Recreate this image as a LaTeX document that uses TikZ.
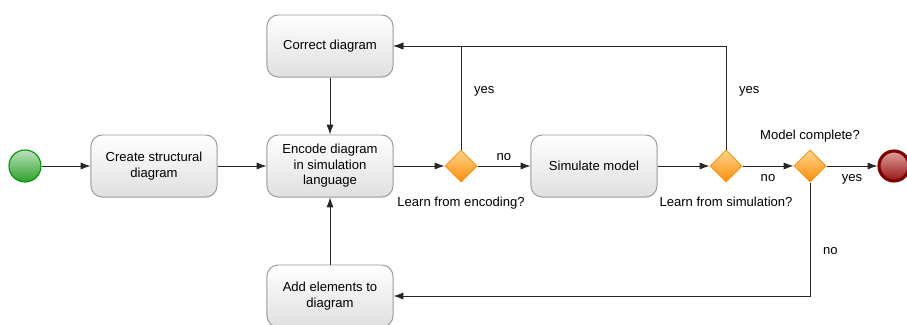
\documentclass[tikz,border=0pt]{standalone}
\usepackage{fontspec}
\setmainfont{Liberation Sans}
\usetikzlibrary{shapes.geometric}
\usetikzlibrary{arrows.meta}
\usetikzlibrary{positioning}
\definecolor{startline}{RGB}{0,150,0}
\definecolor{starttop}{RGB}{190,225,190}
\definecolor{startbot}{RGB}{40,160,40}
\definecolor{endline}{RGB}{125,0,0}
\definecolor{endtop}{RGB}{225,160,160}
\definecolor{endbot}{RGB}{150,20,20}
\definecolor{gateline}{RGB}{250,150,20}
\definecolor{gatetop}{RGB}{255,215,140}
\definecolor{gatebot}{RGB}{250,140,10}
\tikzstyle{task}=[rectangle, rounded corners=8pt, draw=gray!80, line width=0.7pt, top color=white, bottom color=gray!25, minimum width=3.15cm, minimum height=1.55cm, align=center, font=\fontsize{9.3}{11}\selectfont]
\tikzstyle{gate}=[diamond, draw=gateline, line width=0.7pt, top color=gatetop, bottom color=gatebot, minimum width=0.8cm, minimum height=0.8cm, inner sep=0pt]
\tikzstyle{startev}=[circle, draw=startline, line width=0.8pt, top color=starttop, bottom color=startbot, minimum size=0.8cm, inner sep=0pt]
\tikzstyle{endev}=[circle, draw=endline, line width=2.2pt, top color=endtop, bottom color=endbot, minimum size=0.75cm, inner sep=0pt]
\tikzstyle{flow}=[-{Latex[length=7pt,width=5pt]}, line width=0.6pt, black!85]
\tikzstyle{note}=[font=\fontsize{9.3}{11}\selectfont, inner sep=1pt, black]

\begin{document}
\begin{tikzpicture}[x=0.025cm, y=-0.025cm]
        \useasboundingbox (0,0) rectangle (907,324);

        % Eventos
        \node[startev] (start) at (25,166) {};
        \node[endev] (stop) at (894,166) {};

        % Tareas
        \node[task] (create) at (154,166) {Create structural\\diagram};
        \node[task] (encode) at (330,166) {Encode diagram\\in simulation\\language};
        \node[task] (correct) at (330,46) {Correct diagram};
        \node[task] (add) at (330,296) {Add elements to\\diagram};
        \node[task] (simulate) at (594,166) {Simulate model};

        % Decisiones
        \node[gate] (g1) at (461,166) {};
        \node[gate] (g2) at (726,166) {};
        \node[gate] (g3) at (810,166) {};
        \node[note, below=9pt of g1] (q1) {Learn from encoding?};
        \node[note, below=9pt of g2] (q2) {Learn from simulation?};
        \node[note, above=4pt of g3] (q3) {Model complete?};

        % Conexiones
        \draw[flow] (start) -- (create);
        \draw[flow] (create) -- (encode);
        \draw[flow] (encode) -- (g1);
        \draw[flow] (g1) -- node[note, above=2.5pt] (no1) {no} (simulate);
        \draw[flow] (g1) |- node[note, pos=0.28, right=8pt] (yes1) {yes} (correct);
        \draw[flow] (simulate) -- (g2);
        \draw[flow] (g2) |- node[note, pos=0.28, right=8pt] (yes2) {yes} (correct);
        \draw[flow] (g2) -- node[note, below=5pt] (no2) {no} (g3);
        \draw[flow] (g3) -- node[note, below=5pt] (yes3) {yes} (stop);
        \draw[flow] (g3) |- node[note, pos=0.3, right=8pt] (no3) {no} (add);
        \draw[flow] (correct) -- (encode);
        \draw[flow] (add) -- (encode);
\end{tikzpicture}
\end{document}
